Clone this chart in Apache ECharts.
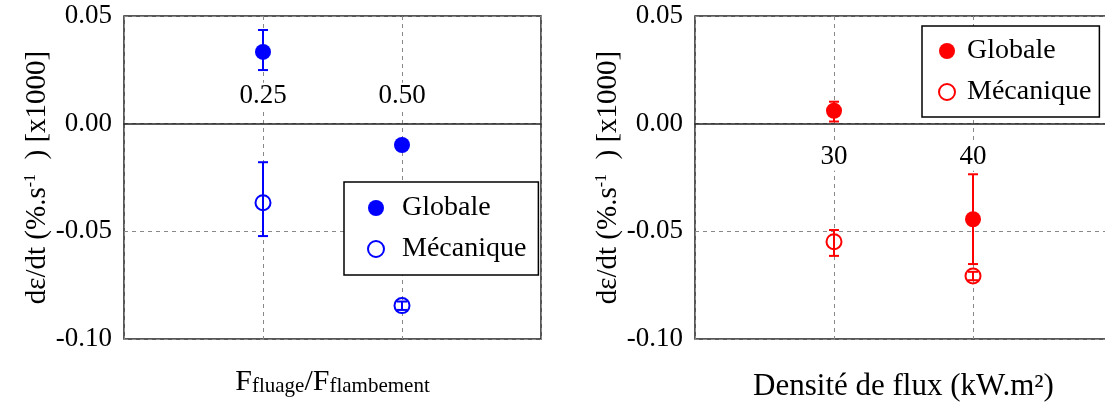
<!DOCTYPE html>
<html><head><meta charset="utf-8">
<script src="https://cdn.jsdelivr.net/npm/echarts@6/dist/echarts.min.js"></script>
<style>html,body{margin:0;padding:0;background:#fff}#c{width:1105px;height:406px}</style>
</head><body><div id="c"></div>
<script>
// ---- data ----
const leftX = [0.25, 0.50];
const leftXLabels = ['0.25', '0.50'];
const leftGlobale = [0.0333, -0.0099];
const leftGlobaleLow = [0.0249, null];
const leftGlobaleHigh = [0.0435, null];
const leftMeca = [-0.0367, -0.0845];
const leftMecaLow = [-0.0522, -0.0865];
const leftMecaHigh = [-0.0179, -0.0826];

const rightX = [30, 40];
const rightXLabels = ['30', '40'];
const rightGlobale = [0.0060, -0.0444];
const rightGlobaleLow = [0.0010, -0.0652];
const rightGlobaleHigh = [0.0102, -0.0235];
const rightMeca = [-0.0548, -0.0707];
const rightMecaLow = [-0.0614, -0.0727];
const rightMecaHigh = [-0.0494, -0.0688];

const yMin = -0.1, yMax = 0.05, yInterval = 0.05;
const legendLabels = {g1: 'Globale', m1: 'Mécanique', g2: 'Globale', m2: 'Mécanique'};
const FONT = 'Liberation Serif';
const GRID_H = 323;
// offset of the x axis so it sits on y = 0 (from the bottom edge of the grid)
const zeroOffset = -GRID_H * (0 - yMin) / (yMax - yMin);

function pts(xs, ys) { return xs.map((x, i) => [x, ys[i]]); }
function errs(xs, lo, hi) {
  const out = [];
  xs.forEach((x, i) => { if (lo[i] != null && hi[i] != null) out.push([x, lo[i], hi[i]]); });
  return out;
}
function errSeries(idx, data, color) {
  return {
    type: 'custom', xAxisIndex: idx * 2, yAxisIndex: idx, z: 3, silent: true,
    data: data,
    renderItem: function (params, api) {
      const a = api.coord([api.value(0), api.value(1)]);
      const b = api.coord([api.value(0), api.value(2)]);
      const w = 5;
      const st = {stroke: color, lineWidth: 2};
      return {type: 'group', children: [
        {type: 'line', shape: {x1: a[0], y1: a[1], x2: b[0], y2: b[1]}, style: st},
        {type: 'line', shape: {x1: a[0] - w, y1: a[1], x2: a[0] + w, y2: a[1]}, style: st},
        {type: 'line', shape: {x1: b[0] - w, y1: b[1], x2: b[0] + w, y2: b[1]}, style: st}
      ]};
    }
  };
}
function labelFor(xs, labels) {
  return function (v) {
    for (let i = 0; i < xs.length; i++) if (Math.abs(v - xs[i]) < 1e-9) return labels[i];
    return '';
  };
}
const yName = {
  name: '{m|dε/dt (%.s}{s|-1}{m|  ) [x1000]}',
  nameLocation: 'middle', nameRotate: 90, nameGap: 72, nameMoveOverlap: false,
  nameTextStyle: {fontFamily: FONT, color: '#000', rich: {
    m: {fontFamily: FONT, fontSize: 29, color: '#000', verticalAlign: 'bottom', lineHeight: 29},
    s: {fontFamily: FONT, fontSize: 16, color: '#000', verticalAlign: 'top', lineHeight: 16, padding: [0, 0, 26, 0]}
  }}
};
function yAxis(gi) {
  return Object.assign({
    type: 'value', gridIndex: gi, min: yMin, max: yMax, interval: yInterval,
    axisLine: {show: false}, axisTick: {show: false},
    axisLabel: {fontFamily: FONT, fontSize: 27, color: '#000', margin: 12,
      formatter: v => Math.abs(v) < 1e-9 ? '0.00' : v.toFixed(2)},
    splitLine: {show: true, lineStyle: {type: [4, 4], color: '#888', width: 1}}
  }, yName);
}
function mainX(gi, min, max, interval, xs, labels, inside, margin) {
  return {
    type: 'value', gridIndex: gi, min: min, max: max, interval: interval, position: 'bottom',
    offset: zeroOffset,
    axisLine: {show: true, onZero: false, lineStyle: {color: '#222', width: 1.5}},
    axisTick: {show: false},
    axisLabel: {inside: inside, margin: margin, fontFamily: FONT, fontSize: 27, color: '#000',
      backgroundColor: '#fff', padding: [0, 2], formatter: labelFor(xs, labels)},
    splitLine: {show: true, lineStyle: {type: [4, 4], color: '#888', width: 1}},
    z: 2
  };
}
function nameX(gi, min, max, name, rich, gap) {
  return {
    type: 'value', gridIndex: gi, min: min, max: max, position: 'bottom',
    axisLine: {show: false, onZero: false}, axisTick: {show: false}, axisLabel: {show: false},
    splitLine: {show: false}, nameMoveOverlap: false,
    name: name, nameLocation: 'middle', nameGap: gap,
    nameTextStyle: {fontFamily: FONT, color: '#000', rich: rich}
  };
}
const xRich1 = {
  m: {fontFamily: FONT, fontSize: 30, color: '#000', verticalAlign: 'top', lineHeight: 30},
  b: {fontFamily: FONT, fontSize: 21, color: '#000', verticalAlign: 'bottom', lineHeight: 21, padding: [16, 0, 0, 0]}
};
const xRich2 = {
  m: {fontFamily: FONT, fontSize: 31, color: '#000', lineHeight: 31}
};

const chart = echarts.init(document.getElementById('c'), null, {renderer: 'canvas'});
chart.setOption({
  animation: false,
  backgroundColor: '#fff',
  grid: [
    {left: 124, top: 16, width: 417, height: GRID_H, show: true, borderColor: '#222', borderWidth: 1.5,
      backgroundColor: 'transparent', containLabel: false, outerBoundsMode: 'none'},
    {left: 695, top: 16, width: 417, height: GRID_H, show: true, borderColor: '#222', borderWidth: 1.5,
      backgroundColor: 'transparent', containLabel: false, outerBoundsMode: 'none'}
  ],
  xAxis: [
    mainX(0, 0, 0.75, 0.25, leftX, leftXLabels, true, 14),
    nameX(0, 0, 0.75, '{m|F}{b|fluage}{m|/F}{b|flambement}', xRich1, 28),
    mainX(1, 20, 50, 10, rightX, rightXLabels, false, 20),
    nameX(1, 20, 50, '{m|Densité de flux (kW.m²)}', xRich2, 32)
  ],
  yAxis: [yAxis(0), yAxis(1)],
  legend: [
    {
      data: ['g1', 'm1'], orient: 'vertical', left: 344, top: 182,
      padding: [12, 12, 12, 23], itemGap: 13, itemWidth: 16, itemHeight: 16,
      borderColor: '#000', borderWidth: 1.5, backgroundColor: '#fff', borderRadius: 0,
      formatter: n => legendLabels[n],
      textStyle: {fontFamily: FONT, fontSize: 28, color: '#000', lineHeight: 27, padding: [0, 0, 0, 13]},
      selectedMode: false, z: 10
    },
    {
      data: ['g2', 'm2'], orient: 'vertical', left: 922, top: 26,
      padding: [11, 8, 11, 16], itemGap: 13, itemWidth: 16, itemHeight: 16,
      borderColor: '#000', borderWidth: 1.5, backgroundColor: '#fff', borderRadius: 0,
      formatter: n => legendLabels[n],
      textStyle: {fontFamily: FONT, fontSize: 28, color: '#000', lineHeight: 27, padding: [0, 0, 0, 7]},
      selectedMode: false, z: 10
    }
  ],
  series: [
    errSeries(0, errs(leftX, leftGlobaleLow, leftGlobaleHigh), '#0000ff'),
    errSeries(0, errs(leftX, leftMecaLow, leftMecaHigh), '#0000ff'),
    errSeries(1, errs(rightX, rightGlobaleLow, rightGlobaleHigh), '#ff0000'),
    errSeries(1, errs(rightX, rightMecaLow, rightMecaHigh), '#ff0000'),
    {name: 'g1', type: 'scatter', xAxisIndex: 0, yAxisIndex: 0, z: 4, symbol: 'circle', symbolSize: 16,
      itemStyle: {color: '#0000ff', opacity: 1}, data: pts(leftX, leftGlobale)},
    {name: 'm1', type: 'scatter', xAxisIndex: 0, yAxisIndex: 0, z: 4, symbol: 'circle', symbolSize: 15,
      itemStyle: {color: 'rgba(0,0,0,0)', borderColor: '#0000ff', borderWidth: 2, opacity: 1}, data: pts(leftX, leftMeca)},
    {name: 'g2', type: 'scatter', xAxisIndex: 2, yAxisIndex: 1, z: 4, symbol: 'circle', symbolSize: 16,
      itemStyle: {color: '#ff0000', opacity: 1}, data: pts(rightX, rightGlobale)},
    {name: 'm2', type: 'scatter', xAxisIndex: 2, yAxisIndex: 1, z: 4, symbol: 'circle', symbolSize: 15,
      itemStyle: {color: 'rgba(0,0,0,0)', borderColor: '#ff0000', borderWidth: 2, opacity: 1}, data: pts(rightX, rightMeca)}
  ]
});
</script></body></html>
